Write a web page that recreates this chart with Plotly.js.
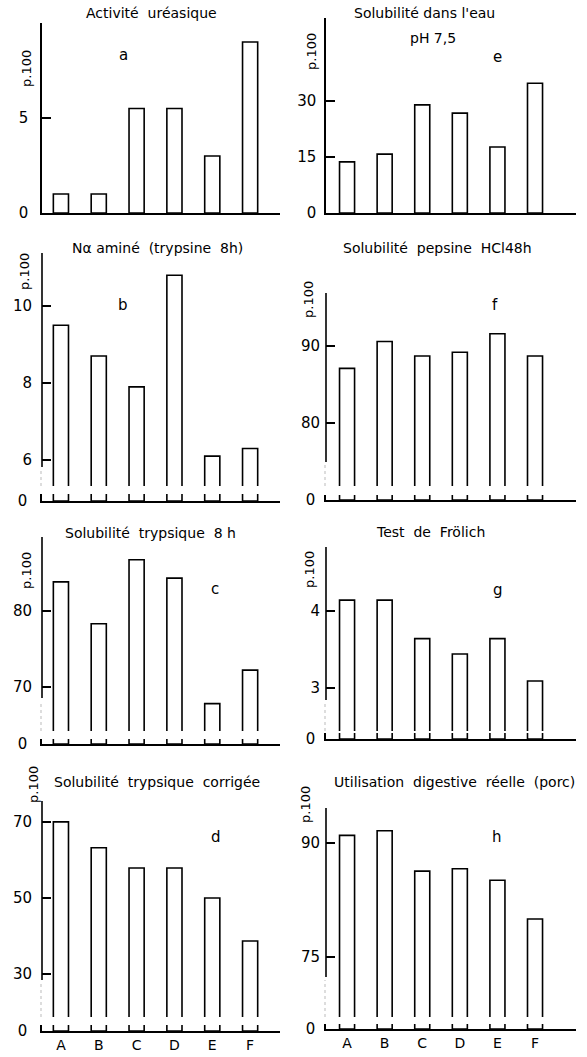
<!DOCTYPE html>
<html>
<head>
<meta charset="utf-8">
<script src="https://cdn.plot.ly/plotly-3.0.1.min.js"></script>
<style>html,body{margin:0;padding:0;background:#fff;}#chart{width:587px;height:1057px;}</style>
</head>
<body>
<div id="chart"></div>
<script>
// ---- data ----
const categories = ['A', 'B', 'C', 'D', 'E', 'F'];
const activiteUreasique = [1.0, 1.0, 5.5, 5.5, 3.0, 9.0];          // a
const solubiliteEau = [13.7, 15.8, 29.0, 26.8, 17.7, 34.8];          // e
const nAlphaAmine = [9.5, 8.7, 7.9, 10.8, 6.1, 6.3];                 // b
const solubilitePepsine = [87.1, 90.6, 88.7, 89.2, 91.6, 88.7];      // f
const solubiliteTrypsique = [83.8, 78.3, 86.7, 84.3, 67.8, 72.2];    // c
const testFrolich = [4.14, 4.14, 3.64, 3.44, 3.64, 3.09];            // g
const trypsiqueCorrigee = [70.0, 63.2, 57.9, 57.9, 50.0, 38.7];      // d
const utilisationDigestive = [91.0, 91.6, 86.3, 86.6, 85.1, 80.0];   // h

const tickA = [0, 5], tickE = [0, 15, 30], tickB = [6, 8, 10], tickF = [80, 90];
const tickC = [70, 80], tickG = [3, 4], tickD = [30, 50, 70], tickH = [75, 90];

// ---- layout helpers (pixel geometry of the page) ----
const W = 587, H = 1057;
const px = v => v / W, py = v => 1 - v / H;
const FONT = 'DejaVu Sans, sans-serif';
const LW = 1.6;

const cols = [
  {ax: 42, x1: 280, range: [-0.5, 5.79], stand: 9},
  {ax: 326, x1: 576, range: [-0.56, 6.09], stand: 5}
];

const panels = [
  {title: 'Activité  uréasique', tx: 151, ty: 13, letter: 'a', lx: 123, ly: 55, px100: [26, 69],
   values: activiteUreasique, ticks: tickA, col: 0, top: 23, bottom: 213, range: [0, 10], broken: false},
  {title: 'Solubilité dans l\'eau', tx: 424, ty: 13, letter: 'e', lx: 497, ly: 57, px100: [311, 52],
   values: solubiliteEau, ticks: tickE, col: 1, top: 18, bottom: 213, range: [0, 52.3], broken: false},
  {title: 'N\u03b1 aminé  (trypsine  8h)', tx: 157, ty: 248, letter: 'b', lx: 123, ly: 305, px100: [24, 272],
   values: nAlphaAmine, ticks: tickB, col: 0, top: 253, bottom: 486, range: [5.325, 11.377], broken: true,
   low: [494, 501], axisEnd: 467},
  {title: 'Solubilité  pepsine  HCl48h', tx: 437, ty: 248, letter: 'f', lx: 495, ly: 305, px100: [309, 300],
   values: solubilitePepsine, ticks: tickF, col: 1, top: 293, bottom: 486, range: [71.8, 96.9], broken: true,
   low: [495, 500], axisEnd: 462},
  {title: 'Solubilité  trypsique  8 h', tx: 150, ty: 533, letter: 'c', lx: 215, ly: 589, px100: [26, 571],
   values: solubiliteTrypsique, ticks: tickC, col: 0, top: 537, bottom: 731, range: [64.2, 89.7], broken: true,
   low: [739, 744], axisEnd: 698},
  {title: 'Test  de  Frölich', tx: 430, ty: 532, letter: 'g', lx: 498, ly: 590, px100: [309, 570],
   values: testFrolich, ticks: tickG, col: 1, top: 547, bottom: 731, range: [2.44, 4.83], broken: true,
   low: [733, 739], axisEnd: 700},
  {title: 'Solubilité  trypsique  corrigée', tx: 157, ty: 782, letter: 'd', lx: 216, ly: 837, px100: [33, 785],
   values: trypsiqueCorrigee, ticks: tickD, col: 0, top: 801, bottom: 1017, range: [18.7, 75.5], broken: true,
   low: [1025, 1031], axisEnd: 980, labels: true},
  {title: 'Utilisation  digestive  réelle  (porc)', tx: 454, ty: 782, letter: 'h', lx: 497, ly: 837, px100: [305, 805],
   values: utilisationDigestive, ticks: tickH, col: 1, top: 808, bottom: 1017, range: [67.1, 94.6], broken: true,
   low: [1024, 1029], axisEnd: 977, labels: true}
];

const data = [];
const layout = {
  width: W, height: H, margin: {l: 0, r: 0, t: 0, b: 0},
  showlegend: false, paper_bgcolor: '#fff', plot_bgcolor: 'rgba(0,0,0,0)',
  font: {family: FONT, color: '#000', size: 14},
  shapes: [], annotations: []
};

const xIdx = categories.map((c, i) => i);
let yCount = 0;
const aid = n => (n === 1 ? '' : String(n));

function annot(text, x, y, size, extra) {
  layout.annotations.push(Object.assign({
    text: text, xref: 'paper', yref: 'paper', x: px(x), y: py(y),
    xanchor: 'center', yanchor: 'middle', showarrow: false,
    font: {family: FONT, size: size, color: '#000'}
  }, extra || {}));
}

panels.forEach((p, i) => {
  const c = cols[p.col];
  const xn = i + 1;
  const yUp = ++yCount;
  const yLow = p.broken ? ++yCount : null;
  const xid = 'x' + aid(xn);

  layout['xaxis' + aid(xn)] = {
    domain: [px(c.ax), px(c.x1)], range: c.range, anchor: 'y' + aid(yLow || yUp),
    showline: true, linewidth: LW, linecolor: '#000', ticks: '', showgrid: false, zeroline: false,
    tickmode: 'array', tickvals: xIdx, ticktext: categories, showticklabels: !!p.labels,
    tickfont: {family: FONT, size: 14, color: '#000'}, ticklabelstandoff: 1, fixedrange: true
  };
  layout['yaxis' + aid(yUp)] = {
    domain: [py(p.bottom), py(p.top)], range: p.range, anchor: xid,
    showline: !p.broken, linewidth: LW, linecolor: '#000',
    ticks: 'inside', ticklen: 9, tickwidth: 1.5, tickcolor: '#000',
    tickmode: 'array', tickvals: p.ticks, ticktext: p.ticks.map(String),
    tickfont: {family: FONT, size: 15, color: '#000'}, ticklabelstandoff: c.stand,
    showgrid: false, zeroline: false, fixedrange: true
  };
  const barStyle = {type: 'bar', x: xIdx, y: p.values, width: 0.4, xaxis: xid,
    marker: {color: '#fff', line: {color: '#000', width: LW}}, hoverinfo: 'skip'};
  data.push(Object.assign({}, barStyle, {yaxis: 'y' + aid(yUp)}));

  if (p.broken) {
    layout['yaxis' + aid(yLow)] = {
      domain: [py(p.low[1]), py(p.low[0])], range: [0, 1], anchor: xid,
      showline: true, linewidth: LW, linecolor: '#000', ticks: '',
      tickmode: 'array', tickvals: [0], ticktext: ['0'],
      tickfont: {family: FONT, size: 15, color: '#000'}, ticklabelstandoff: c.stand + 1,
      showgrid: false, zeroline: false, fixedrange: true
    };
    data.push(Object.assign({}, barStyle, {yaxis: 'y' + aid(yLow)}));
    // broken y-axis: solid part + faint dotted continuation
    layout.shapes.push({type: 'line', xref: 'paper', yref: 'paper',
      x0: px(c.ax), x1: px(c.ax), y0: py(p.axisEnd), y1: py(p.top),
      line: {color: '#000', width: LW}});
    layout.shapes.push({type: 'line', xref: 'paper', yref: 'paper',
      x0: px(c.ax - 1), x1: px(c.ax - 1), y0: py(p.bottom), y1: py(p.axisEnd + 3),
      line: {color: '#bbb', width: 1, dash: 'dot'}});
  }

  annot(p.title, p.tx, p.ty, 14);
  annot(p.letter, p.lx, p.ly, 15);
  annot('p.100', p.px100[0], p.px100[1], 13, {textangle: -90});
});
annot('pH 7,5', 433, 38, 14);

Plotly.newPlot('chart', data, layout, {displayModeBar: false, staticPlot: true});
</script>
</body>
</html>
